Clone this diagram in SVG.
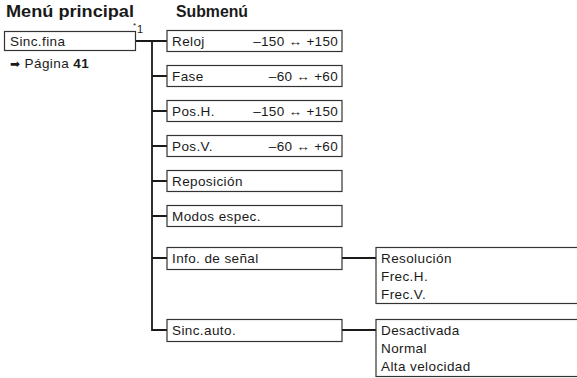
<svg xmlns="http://www.w3.org/2000/svg" width="577" height="378" viewBox="0 0 577 378">
<style>
.box{fill:#fff;stroke:#333;stroke-width:1.2}
.con{fill:none;stroke:#1a1a1a;stroke-width:1.8}
text{font-family:"Liberation Sans",Arial,sans-serif;fill:#1a1a1a}
.t{font-size:13.5px;letter-spacing:0.4px}
.h{font-size:17px;font-weight:bold}
.v{font-size:13.5px;text-anchor:end;letter-spacing:0.3px}
</style>
<rect width="577" height="378" fill="#fff"/>
<g id="headers">
<text class="h" x="6" y="17" textLength="128" lengthAdjust="spacingAndGlyphs">Menú principal</text>
<text class="h" x="176" y="17" textLength="72" lengthAdjust="spacingAndGlyphs">Submenú</text>
</g>
<g id="connectors">
<path class="con" d="M135.5,41 H167 M152,41 V330 H167 M152,76 H167 M152,111 H167 M152,146 H167 M152,181 H167 M152,216 H167 M152,258 H167 M342,258 H376 M342,330 H376"/>
</g>
<g id="sinc-fina">
<rect class="box" x="4.5" y="31.5" width="131" height="19"/>
<text class="t" x="10" y="46">Sinc.fina</text>
<text style="font-size:8px" x="133" y="28">*</text>
<text style="font-size:11px" x="137" y="33">1</text>
<text class="t" x="10" y="68"><tspan font-family="DejaVu Sans" style="font-size:12px">➡</tspan> Página <tspan font-weight="bold">41</tspan></text>
</g>
<g id="reloj">
<rect class="box" x="167" y="30.5" width="175" height="21"/>
<text class="t" x="172" y="46">Reloj</text>
<text class="v" x="338" y="46">–150 ↔ +150</text>
</g>
<g id="fase">
<rect class="box" x="167" y="65.5" width="175" height="21"/>
<text class="t" x="172" y="81">Fase</text>
<text class="v" x="338" y="81">–60 ↔ +60</text>
</g>
<g id="posh">
<rect class="box" x="167" y="100.5" width="175" height="21"/>
<text class="t" x="172" y="116">Pos.H.</text>
<text class="v" x="338" y="116">–150 ↔ +150</text>
</g>
<g id="posv">
<rect class="box" x="167" y="135.5" width="175" height="21"/>
<text class="t" x="172" y="151">Pos.V.</text>
<text class="v" x="338" y="151">–60 ↔ +60</text>
</g>
<g id="reposicion">
<rect class="box" x="167" y="170.5" width="175" height="21"/>
<text class="t" x="172" y="186">Reposición</text>
</g>
<g id="modos">
<rect class="box" x="167" y="205.5" width="175" height="21"/>
<text class="t" x="172" y="221">Modos espec.</text>
</g>
<g id="info">
<rect class="box" x="167" y="247.5" width="175" height="22"/>
<text class="t" x="172" y="263">Info. de señal</text>
</g>
<g id="sinc-auto">
<rect class="box" x="167" y="319.5" width="175" height="22"/>
<text class="t" x="172" y="335">Sinc.auto.</text>
</g>
<g id="info-options">
<rect class="box" x="376" y="247.5" width="220" height="56"/>
<text class="t" x="381" y="263">Resolución</text>
<text class="t" x="381" y="281">Frec.H.</text>
<text class="t" x="381" y="299">Frec.V.</text>
</g>
<g id="auto-options">
<rect class="box" x="376" y="319.5" width="220" height="57"/>
<text class="t" x="381" y="335">Desactivada</text>
<text class="t" x="381" y="353">Normal</text>
<text class="t" x="381" y="371">Alta velocidad</text>
</g>
</svg>
